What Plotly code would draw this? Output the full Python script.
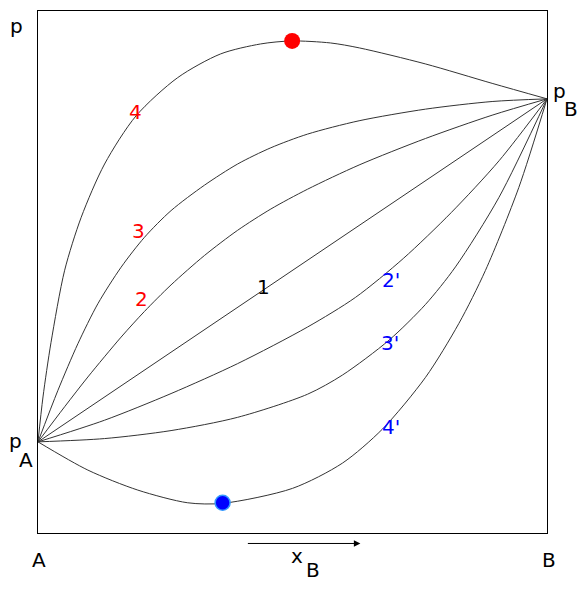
import plotly.graph_objects as go

# Curve data: composition x_B (0..1) and pressure (relative units)
curve1_x = [0.0, 1.0]
curve1_p = [0.1746, 0.8317]

curve2_x = [0.0, 0.0524, 0.0980, 0.1633, 0.2092, 0.2614, 0.3269, 0.3922, 0.4575, 0.5294, 0.6308, 0.7614, 0.8922, 1.0]
curve2_p = [0.1746, 0.2419, 0.2989, 0.3753, 0.4245, 0.4753, 0.5315, 0.5799, 0.6207, 0.6585, 0.7050, 0.7558, 0.8004, 0.8317]

curve3_x = [0.0, 0.0392, 0.0784, 0.1176, 0.1633, 0.2092, 0.2614, 0.3269, 0.3922, 0.4575, 0.5294, 0.6308, 0.7614, 0.8922, 1.0]
curve3_p = [0.1746, 0.2734, 0.3627, 0.4392, 0.5092, 0.5665, 0.6176, 0.6662, 0.7069, 0.7380, 0.7641, 0.7897, 0.8120, 0.8266, 0.8317]

curve4_x = [0.0, 0.0098, 0.0255, 0.0524, 0.0849, 0.1308, 0.1927, 0.2745, 0.3588, 0.4373, 0.4980, 0.5745, 0.6314, 0.7608, 0.8922, 1.0]
curve4_p = [0.1746, 0.2606, 0.3646, 0.5034, 0.6048, 0.7069, 0.7992, 0.8724, 0.9178, 0.9369, 0.9426, 0.9388, 0.9293, 0.8987, 0.8614, 0.8317]

curve2p_x = [0.0, 0.1308, 0.2614, 0.3922, 0.5294, 0.6235, 0.7176, 0.8118, 0.9059, 1.0]
curve2p_p = [0.1746, 0.2161, 0.2671, 0.3245, 0.3945, 0.4512, 0.5258, 0.6138, 0.7132, 0.8317]

curve3p_x = [0.0, 0.1308, 0.2614, 0.3922, 0.5294, 0.5980, 0.6896, 0.7614, 0.8202, 0.9053, 1.0]
curve3p_p = [0.1746, 0.1809, 0.1962, 0.2216, 0.2658, 0.3025, 0.3694, 0.4380, 0.5098, 0.6424, 0.8317]

curve4p_x = [0.0, 0.0980, 0.1961, 0.2941, 0.3627, 0.5, 0.5980, 0.6765, 0.7614, 0.8269, 0.8790, 0.9445, 1.0]
curve4p_p = [0.1746, 0.1205, 0.0822, 0.0579, 0.0568, 0.0855, 0.1338, 0.1989, 0.2983, 0.4015, 0.5029, 0.6616, 0.8317]

max_point_x = [0.4993]
max_point_p = [0.9426]
min_point_x = [0.3627]
min_point_p = [0.0579]

curve_labels = ["4", "3", "2", "1", "2'", "3'", "4'"]
label_x = [0.191, 0.197, 0.203, 0.443, 0.693, 0.691, 0.693]
label_p = [0.806, 0.578, 0.449, 0.471, 0.484, 0.364, 0.203]
label_colors = ["red", "red", "red", "black", "blue", "blue", "blue"]

FONT = "DejaVu Sans"
fig = go.Figure()

for xs, ps in [(curve4_x, curve4_p), (curve3_x, curve3_p), (curve2_x, curve2_p),
               (curve1_x, curve1_p), (curve2p_x, curve2p_p), (curve3p_x, curve3p_p),
               (curve4p_x, curve4p_p)]:
    fig.add_trace(go.Scatter(x=xs, y=ps, mode="lines",
                             line=dict(color="#333333", width=1, shape="spline", smoothing=0.8),
                             hoverinfo="skip", showlegend=False))

fig.add_trace(go.Scatter(x=max_point_x, y=max_point_p, mode="markers",
                         marker=dict(color="red", size=16, line=dict(width=0)),
                         showlegend=False, cliponaxis=False))
fig.add_trace(go.Scatter(x=min_point_x, y=min_point_p, mode="markers",
                         marker=dict(color="blue", size=15, line=dict(color="#3399ff", width=1.5)),
                         showlegend=False, cliponaxis=False))

for t, lx, lp, c in zip(curve_labels, label_x, label_p, label_colors):
    fig.add_annotation(x=lx, y=lp, text=t, showarrow=False,
                       xanchor="center", yanchor="middle",
                       font=dict(family=FONT, size=20, color=c))


def px(xp):
    return (xp - 37) / 510.0


def py(yp):
    return (533 - yp) / 523.0


outside = [
    ("p", 15, 25), ("p", 14.5, 441), ("A", 24.5, 460),
    ("p", 559.5, 90), ("B", 571, 108),
    ("A", 38, 560), ("B", 549, 560),
    ("x", 296.5, 556), ("B", 312.5, 570.5),
]
for t, xp, yp in outside:
    fig.add_annotation(x=px(xp), y=py(yp), xref="paper", yref="paper", text=t,
                       xanchor="center", yanchor="middle",
                       showarrow=False, font=dict(family=FONT, size=20, color="black"))

fig.add_annotation(x=px(360), y=py(543.5), xref="paper", yref="paper",
                   ax=-114, ay=0, text="",
                   showarrow=True, arrowhead=2, arrowsize=1.3, arrowwidth=1,
                   arrowcolor="black")

fig.update_xaxes(range=[0, 1], showgrid=False, zeroline=False, showticklabels=False,
                 ticks="", showline=True, mirror=True, linecolor="black", linewidth=1)
fig.update_yaxes(range=[0, 1], showgrid=False, zeroline=False, showticklabels=False,
                 ticks="", showline=True, mirror=True, linecolor="black", linewidth=1)

fig.update_layout(width=579, height=580, margin=dict(l=30, r=40, t=3, b=55),
                  plot_bgcolor="white", paper_bgcolor="white",
                  font=dict(family=FONT))

fig.write_html("out.html")
